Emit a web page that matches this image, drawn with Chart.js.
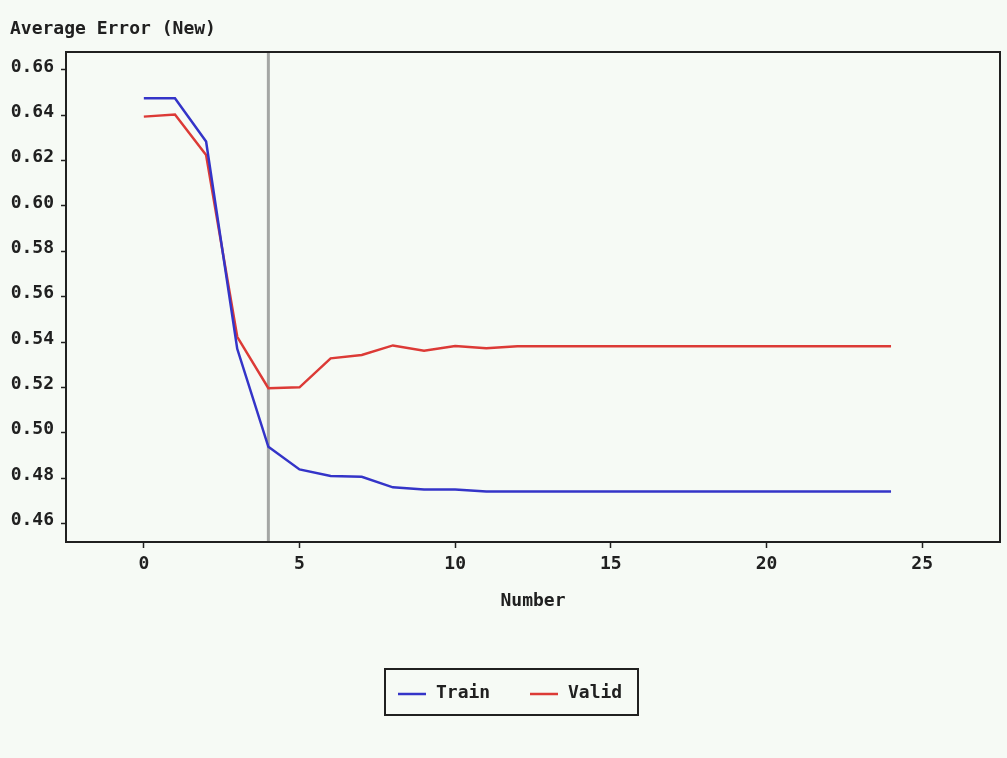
<!DOCTYPE html>
<html>
<head>
<meta charset="utf-8">
<script src="https://cdn.jsdelivr.net/npm/chart.js@4/dist/chart.umd.min.js"></script>
<style>
  html, body { margin: 0; padding: 0; background: #f6faf5; }
  #wrap { width: 1007px; height: 758px; position: relative; }
</style>
</head>
<body>
<div id="wrap"><canvas id="c" width="1007" height="758"></canvas></div>
<script>
// ---- data ----
const chartTitle = "Average Error (New)";
const xAxisTitle = "Number";
const seriesNames = ["Train", "Valid"];
const epochs = [0,1,2,3,4,5,6,7,8,9,10,11,12,13,14,15,16,17,18,19,20,21,22,23,24];
const trainError = [0.6475,0.6475,0.6284,0.5370,0.4938,0.4838,0.4809,0.4806,0.4759,0.4750,0.4750,0.4741,0.4741,0.4741,0.4741,0.4741,0.4741,0.4741,0.4741,0.4741,0.4741,0.4741,0.4741,0.4741,0.4741];
const validError = [0.6394,0.6403,0.6225,0.5423,0.5196,0.5200,0.5328,0.5343,0.5385,0.5362,0.5382,0.5373,0.5381,0.5381,0.5381,0.5381,0.5381,0.5381,0.5381,0.5381,0.5381,0.5381,0.5381,0.5381,0.5381];
const xTicks = [0,5,10,15,20,25];
const yTicks = [0.46,0.48,0.50,0.52,0.54,0.56,0.58,0.60,0.62,0.64,0.66];
const selectedEpoch = 4;

const FONT = "'DejaVu Sans Mono', monospace";
const BG = "#f6faf5";
const INK = "#202020";

const frameAndMarker = {
  id: 'frameAndMarker',
  beforeDraw(chart) {
    const ctx = chart.ctx;
    ctx.save();
    ctx.fillStyle = BG;
    ctx.fillRect(0, 0, chart.width, chart.height);
    ctx.restore();
  },
  beforeDatasetsDraw(chart) {
    const {ctx, chartArea: a, scales} = chart;
    const px = scales.x.getPixelForValue(selectedEpoch);
    ctx.save();
    ctx.strokeStyle = "#a4a6a4";
    ctx.lineWidth = 3;
    ctx.beginPath();
    ctx.moveTo(px, a.top);
    ctx.lineTo(px, a.bottom);
    ctx.stroke();
    ctx.restore();
  },
  afterDraw(chart) {
    const {ctx, chartArea: a} = chart;
    ctx.save();
    ctx.strokeStyle = INK;
    ctx.lineWidth = 2;
    ctx.strokeRect(a.left, a.top, a.right - a.left, a.bottom - a.top);
    // legend box
    const bx = 385, by = 669, bw = 253, bh = 46;
    ctx.lineWidth = 2;
    ctx.strokeRect(bx, by, bw, bh);
    const ly = by + bh / 2 + 2;
    const items = [{x: 398}, {x: 530}];
    ctx.font = "bold 18px " + FONT;
    ctx.textBaseline = "middle";
    ctx.textAlign = "left";
    chart.data.datasets.forEach((ds, i) => {
      const sx = items[i].x;
      ctx.strokeStyle = ds.borderColor;
      ctx.lineWidth = 2.5;
      ctx.beginPath();
      ctx.moveTo(sx, ly);
      ctx.lineTo(sx + 28, ly);
      ctx.stroke();
      ctx.fillStyle = INK;
      ctx.fillText(ds.label, sx + 38, ly - 1);
    });
    ctx.restore();
  }
};

new Chart(document.getElementById('c'), {
  type: 'line',
  data: {
    datasets: [
      {
        label: seriesNames[0],
        data: epochs.map((e, i) => ({x: e, y: trainError[i]})),
        borderColor: "#3434c8",
        borderWidth: 2.5,
        pointRadius: 0,
        tension: 0,
        fill: false
      },
      {
        label: seriesNames[1],
        data: epochs.map((e, i) => ({x: e, y: validError[i]})),
        borderColor: "#dc3a36",
        borderWidth: 2.5,
        pointRadius: 0,
        tension: 0,
        fill: false
      }
    ]
  },
  options: {
    responsive: false,
    animation: false,
    devicePixelRatio: 1,
    layout: { padding: { left: 10, right: 7, top: 0, bottom: 140 } },
    plugins: {
      legend: { display: false },
      tooltip: { enabled: false },
      title: {
        display: true,
        text: chartTitle,
        align: 'start',
        color: INK,
        font: { family: FONT, size: 18, weight: 'bold' },
        padding: { top: 19, bottom: 11.4 }
      }
    },
    scales: {
      x: {
        type: 'linear',
        min: -2.5,
        max: 27.5,
        afterBuildTicks: s => { s.ticks = xTicks.map(v => ({value: v})); },
        afterFit: s => { s.height = 76; },
        grid: { drawOnChartArea: false, drawTicks: true, tickLength: 6, tickColor: INK, tickWidth: 1.5 },
        border: { display: true, color: INK, width: 2 },
        ticks: {
          color: INK,
          padding: 6,
          maxRotation: 0,
          font: { family: FONT, size: 18, weight: 'bold' },
          callback: v => String(v)
        },
        title: {
          display: true,
          text: xAxisTitle,
          color: INK,
          font: { family: FONT, size: 18, weight: 'bold' },
          padding: { top: 0, bottom: 6 }
        }
      },
      y: {
        type: 'linear',
        min: 0.4518,
        max: 0.6679,
        afterBuildTicks: s => { s.ticks = yTicks.map(v => ({value: v})); },
        afterFit: s => { s.width = 56; },
        grid: { drawOnChartArea: false, drawTicks: true, tickLength: 5, tickColor: INK, tickWidth: 1.5 },
        border: { display: true, color: INK, width: 2 },
        ticks: {
          color: INK,
          padding: 7,
          labelOffset: -3,
          font: { family: FONT, size: 18, weight: 'bold' },
          callback: v => Number(v).toFixed(2)
        }
      }
    }
  },
  plugins: [frameAndMarker]
});
</script>
</body>
</html>
